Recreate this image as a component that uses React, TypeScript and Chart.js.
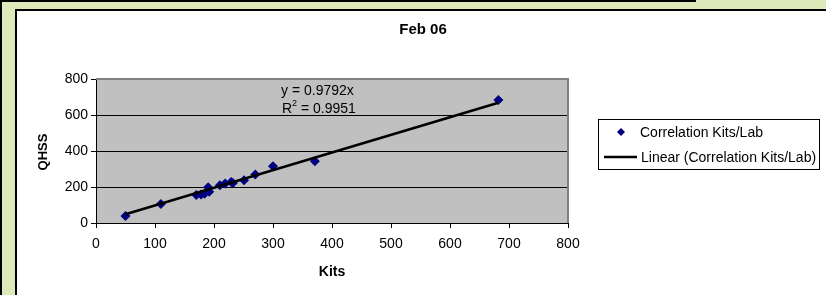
import React, { useEffect, useRef } from 'react';
import { Chart, registerables } from 'chart.js';

Chart.register(...registerables);

// ---- data ----
const kits = [50, 110, 170, 178, 184, 190, 192, 210, 219, 229, 232, 251, 270, 300, 371, 682];
const qhss = [39, 106, 155, 158, 163, 198, 173, 210, 219, 228, 222, 238, 270, 315, 343, 683];
const trendKits = [50, 682];
const trendQhss = [49, 668];
const xTickValues = [0, 100, 200, 300, 400, 500, 600, 700, 800];
const yTickValues = [0, 200, 400, 600, 800];
const chartTitle = 'Feb 06';
const xAxisTitle = 'Kits';
const yAxisTitle = 'QHSS';
const seriesName = 'Correlation Kits/Lab';
const trendName = 'Linear (Correlation Kits/Lab)';
const equationText = 'y = 0.9792x';
const r2Text = '0.9951';

const FONT = '"Liberation Sans", Arial, sans-serif';
const NAVY = '#000080';

const decorPlugin = {
  id: 'decor',
  beforeDraw(chart: any) {
    const { ctx, chartArea: a } = chart;
    ctx.save();
    ctx.fillStyle = '#c0c0c0';
    ctx.fillRect(a.left, a.top, a.right - a.left, a.bottom - a.top);
    ctx.restore();
  },
  afterDraw(chart: any) {
    const { ctx, chartArea: a } = chart;
    ctx.save();
    // gray top/right plot border
    ctx.strokeStyle = '#808080';
    ctx.lineWidth = 2;
    ctx.beginPath();
    ctx.moveTo(a.left, a.top);
    ctx.lineTo(a.right, a.top);
    ctx.lineTo(a.right, a.bottom);
    ctx.stroke();

    ctx.fillStyle = '#000';
    ctx.textBaseline = 'middle';
    // title
    ctx.font = `bold 15px ${FONT}`;
    ctx.textAlign = 'center';
    ctx.fillText(chartTitle, 423, 30);
    // x title
    ctx.font = `bold 14px ${FONT}`;
    ctx.fillText(xAxisTitle, 332, 272);
    // y title
    ctx.save();
    ctx.translate(43, 152);
    ctx.rotate(-Math.PI / 2);
    ctx.font = `bold 13px ${FONT}`;
    ctx.fillText(yAxisTitle, 0, 0);
    ctx.restore();

    // equation
    ctx.textAlign = 'left';
    ctx.font = `14px ${FONT}`;
    ctx.fillText(equationText, 281, 91);
    let x = 282;
    ctx.fillText('R', x, 109);
    x += ctx.measureText('R').width;
    ctx.font = `9px ${FONT}`;
    ctx.fillText('2', x, 104);
    x += ctx.measureText('2').width;
    ctx.font = `14px ${FONT}`;
    ctx.fillText(' = ' + r2Text, x, 109);

    // legend
    ctx.strokeStyle = '#000';
    ctx.lineWidth = 1;
    ctx.strokeRect(598.5, 119.5, 221, 50);
    ctx.fillStyle = NAVY;
    ctx.beginPath();
    ctx.moveTo(621, 128);
    ctx.lineTo(625, 132);
    ctx.lineTo(621, 136);
    ctx.lineTo(617, 132);
    ctx.closePath();
    ctx.fill();
    ctx.fillStyle = '#000';
    ctx.font = `14px ${FONT}`;
    ctx.fillText(seriesName, 640, 133);
    ctx.lineWidth = 2.5;
    ctx.beginPath();
    ctx.moveTo(604, 157);
    ctx.lineTo(637, 157);
    ctx.stroke();
    ctx.fillText(trendName, 641, 158);
    ctx.restore();
  },
};

function ChartCanvas() {
  const ref = useRef<HTMLCanvasElement>(null);
  useEffect(() => {
    if (!ref.current) return;
    const points = kits.map((x, i) => ({ x, y: qhss[i] }));
    const trend = trendKits.map((x, i) => ({ x, y: trendQhss[i] }));
    const chart = new Chart(ref.current, {
      type: 'scatter',
      data: {
        datasets: [
          {
            label: seriesName,
            data: points,
            pointStyle: 'rectRot',
            pointRadius: 5,
            pointBackgroundColor: NAVY,
            pointBorderColor: NAVY,
            pointBorderWidth: 0,
            showLine: false,
            order: 1,
          } as any,
          {
            type: 'line',
            label: trendName,
            data: trend,
            borderColor: '#000',
            borderWidth: 2.5,
            pointRadius: 0,
            showLine: true,
            fill: false,
            order: 0,
          } as any,
        ],
      },
      options: {
        animation: false,
        responsive: false,
        devicePixelRatio: 1,
        layout: { padding: { left: 46, right: 258, top: 79, bottom: 32 } },
        plugins: { legend: { display: false }, title: { display: false }, tooltip: { enabled: false } },
        scales: {
          x: {
            type: 'linear',
            min: 0,
            max: 800,
            afterBuildTicks: (s: any) => { s.ticks = xTickValues.map((v) => ({ value: v })); },
            afterFit: (s: any) => { s.height = 40; },
            ticks: { color: '#000', font: { family: FONT, size: 14 }, padding: 8, maxRotation: 0, autoSkip: false },
            grid: { drawOnChartArea: false, drawTicks: true, tickLength: 5, tickColor: '#000', color: '#000' },
            border: { color: '#000', width: 1 },
          },
          y: {
            type: 'linear',
            min: 0,
            max: 800,
            afterBuildTicks: (s: any) => { s.ticks = yTickValues.map((v) => ({ value: v })); },
            afterFit: (s: any) => { s.width = 50; },
            ticks: { color: '#000', font: { family: FONT, size: 14 }, padding: 3, autoSkip: false },
            grid: {
              drawOnChartArea: true,
              drawTicks: true,
              tickLength: 5,
              tickColor: '#000',
              lineWidth: 1,
              color: (c: any) => (c.tick && c.tick.value === 800 ? '#808080' : '#000'),
            },
            border: { color: '#000', width: 1 },
          },
        },
      },
      plugins: [decorPlugin],
    });
    return () => chart.destroy();
  }, []);
  return (
    <canvas
      ref={ref}
      width={826}
      height={295}
      style={{ position: 'absolute', left: 0, top: 0, width: 826, height: 295 }}
    />
  );
}

export default function App() {
  useEffect(() => {
    document.body.style.margin = '0';
  }, []);
  return (
    <div
      style={{
        position: 'fixed',
        left: 0,
        top: 0,
        width: 826,
        height: 295,
        background: '#dde8bb',
        overflow: 'hidden',
      }}
    >
      <div
        style={{
          position: 'absolute',
          left: 0,
          top: -31,
          width: 696,
          height: 33,
          boxSizing: 'border-box',
          border: '2px solid #000',
          background: '#dde8bb',
        }}
      />
      <div style={{ position: 'absolute', left: 0, top: 0, width: 2, height: 295, background: '#000' }} />
      <div
        style={{
          position: 'absolute',
          left: 15,
          top: 9,
          width: 830,
          height: 300,
          boxSizing: 'border-box',
          border: '2px solid #000',
          background: '#fff',
        }}
      />
      <ChartCanvas />
    </div>
  );
}
